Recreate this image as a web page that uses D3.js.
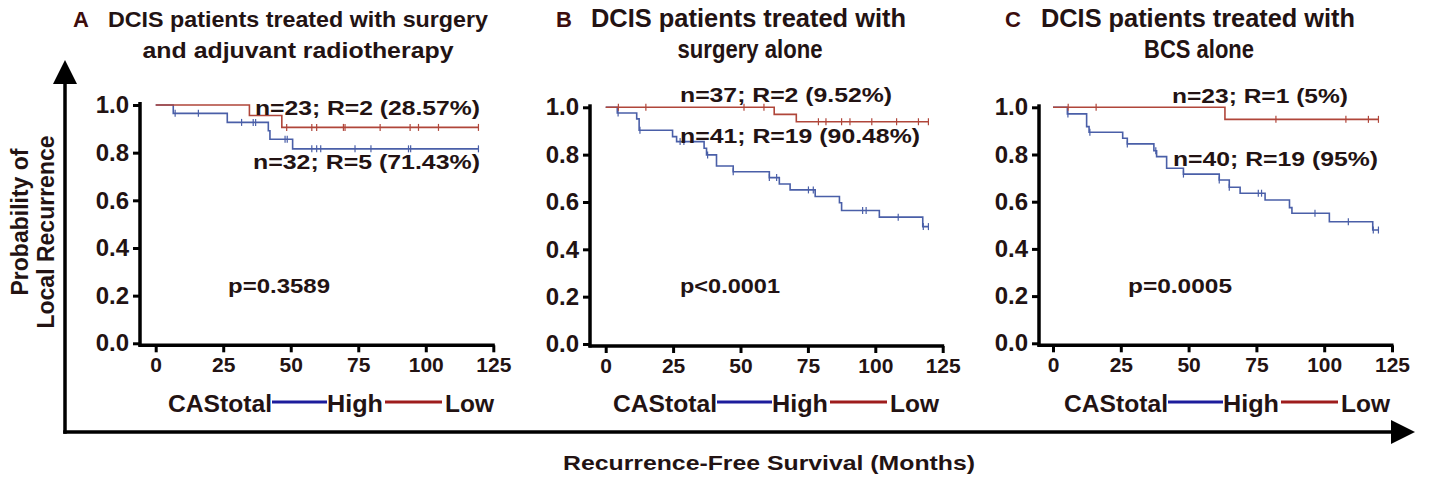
<!DOCTYPE html>
<html>
<head>
<meta charset="utf-8">
<script src="https://cdn.jsdelivr.net/npm/d3@7"></script>
<style>
  html, body { margin: 0; padding: 0; background: #ffffff; }
  svg { display: block; }
  text { font-family: "Liberation Sans", Arial, sans-serif; font-weight: bold; fill: #231313; }
  .narrow { font-family: "Liberation Sans Narrow", "Arial Narrow", "Liberation Sans", Arial, sans-serif; }
</style>
</head>
<body>
<svg id="chart" width="1429" height="477"></svg>
<script>
// ---- data ----
const monthTicks = [0, 25, 50, 75, 100, 125];
const probTicks = [0, 0.2, 0.4, 0.6, 0.8, 1.0];
const panelLetters = ["A", "B", "C"];
const titleLines = [
  ["DCIS patients treated with surgery", "and adjuvant radiotherapy"],
  ["DCIS patients treated with", "surgery alone"],
  ["DCIS patients treated with", "BCS alone"]
];
const pValues = ["p=0.3589", "p<0.0001", "p=0.0005"];
const highCounts = ["n=32; R=5 (71.43%)", "n=41; R=19 (90.48%)", "n=40; R=19 (95%)"];
const lowCounts = ["n=23; R=2 (28.57%)", "n=37; R=2 (9.52%)", "n=23; R=1 (5%)"];
const legendTitle = "CAStotal";
const groupNames = ["High", "Low"];
const followUpEnd = [119.5, 119.7, 120];

// Kaplan-Meier steps: [month, probability after the step]
const aHighSteps = [[0, 1], [6.5, 0.965], [26.5, 0.927], [41.7, 0.892], [42.3, 0.856], [50.7, 0.816]];
const aHighCensor = [7.2, 15.8, 31.8, 36.1, 37.0, 47.9, 48.7, 57.8, 59.6, 61.1, 73.8, 79.7, 93.6, 94.4, 119.5];
const aLowSteps = [[0, 1], [34.7, 0.956], [46.7, 0.906]];
const aLowCensor = [48.5, 57.8, 59.6, 69.5, 70.1, 83.1, 94.2, 97.3, 104.7, 119.5];

const bHighSteps = [[0, 1], [4.3, 0.976], [11.5, 0.951], [12.4, 0.903], [24.8, 0.876], [26.3, 0.855],
  [36.5, 0.827], [37.4, 0.799], [41.1, 0.752], [47.3, 0.728], [60.7, 0.703], [64.4, 0.676],
  [68.4, 0.651], [77.7, 0.623], [86.7, 0.597], [87.5, 0.564], [101.5, 0.536], [117.6, 0.496]];
const bHighCensor = [4.6, 12.7, 27.6, 29.0, 37.8, 47.3, 60.7, 63.4, 75.2, 77.0, 95.3, 96.6, 108.5, 117.8, 119.7];
const bLowSteps = [[0, 1], [62.5, 0.970], [70.7, 0.939]];
const bLowCensor = [4.7, 14.9, 51.3, 58.7, 78.9, 81.7, 87.5, 90.6, 98.7, 107.9, 116.0, 119.7];

const cHighSteps = [[0, 1], [5.3, 0.972], [12.4, 0.918], [13.3, 0.894], [25.7, 0.869], [27.4, 0.845],
  [37.2, 0.816], [38.2, 0.791], [41.9, 0.742], [48.1, 0.717], [61.3, 0.692], [65.0, 0.661],
  [69.0, 0.636], [78.2, 0.607], [87.2, 0.575], [88.1, 0.551], [101.9, 0.515], [117.9, 0.480]];
const cHighCensor = [5.5, 13.6, 27.4, 37.9, 48.1, 61.3, 65.0, 75.7, 76.9, 96.6, 108.9, 118.1, 120];
const cLowSteps = [[0, 1], [63.4, 0.949]];
const cLowCensor = [5.6, 15.9, 82.2, 108, 116.3, 120];

const highSteps = [aHighSteps, bHighSteps, cHighSteps];
const highCensor = [aHighCensor, bHighCensor, cHighCensor];
const lowSteps = [aLowSteps, bLowSteps, cLowSteps];
const lowCensor = [aLowCensor, bLowCensor, cLowCensor];

// ---- layout ----
const panels = [
  { xr: [155.7, 493.3], yr: [343.3, 105],   axisX: 140,  letterX: 81,   t1X: 108, t1W: 380, t2C: 298,  t2W: 311, tSize: 22, narrow: false,
    lowPos: [255, 115, 225], highPos: [253, 169, 227], pPos: [228, 102], legX: 168 },
  { xr: [605.7, 942.7], yr: [344, 107.3],   axisX: 590,  letterX: 564,  t1X: 591, t1W: 315, t2C: 750,  t2W: 145, tSize: 26, narrow: true,
    lowPos: [680, 102, 212], highPos: [680, 143, 240], pPos: [680, 100], legX: 613 },
  { xr: [1053, 1392],   yr: [343.3, 107.3], axisX: 1039, letterX: 1013, t1X: 1041, t1W: 314, t2C: 1199, t2W: 110, tSize: 26, narrow: true,
    lowPos: [1172, 103, 176], highPos: [1173, 166, 205], pPos: [1128, 104], legX: 1064 }
];

const colHigh = "#4a5fa8", colLow = "#b0463a";
const legHigh = "#1c1c9c", legLow = "#9e1c1c";
const ink = "#231313";

const svg = d3.select("#chart");

function stepValue(steps, t) {
  let v = 1;
  for (const s of steps) { if (s[0] <= t) v = s[1]; }
  return v;
}

panels.forEach((p, i) => {
  const x = d3.scaleLinear().domain([0, 125]).range(p.xr);
  const y = d3.scaleLinear().domain([0, 1]).range(p.yr);
  const g = svg.append("g");

  // title
  g.append("text").attr("x", p.letterX).attr("y", 27).attr("text-anchor", "middle")
    .style("font-size", "22px").style("fill", "#3d0d0d").text(panelLetters[i]);
  g.append("text").attr("x", p.t1X).attr("y", 27)
    .classed("narrow", p.narrow)
    .style("font-size", p.tSize + "px")
    .attr("textLength", p.t1W).attr("lengthAdjust", "spacingAndGlyphs")
    .text(titleLines[i][0]);
  g.append("text").attr("x", p.t2C - p.t2W / 2).attr("y", 58)
    .classed("narrow", p.narrow)
    .style("font-size", p.tSize + "px")
    .attr("textLength", p.t2W).attr("lengthAdjust", "spacingAndGlyphs")
    .text(titleLines[i][1]);

  // y axis
  const yAxis = d3.axisLeft(y).tickValues(probTicks).tickFormat(d3.format(".1f"))
    .tickSize(7).tickPadding(4).tickSizeOuter(0);
  const yg = g.append("g").attr("transform", `translate(${p.axisX},0)`).call(yAxis);
  yg.select(".domain").remove();
  yg.selectAll(".tick line").attr("stroke", "#000").attr("stroke-width", 3);
  yg.selectAll(".tick text").style("font-size", "24px").style("font-family", "'Liberation Sans', Arial, sans-serif")
    .style("font-weight", "bold").attr("fill", ink);
  g.append("line").attr("x1", p.axisX).attr("x2", p.axisX)
    .attr("y1", p.yr[1] - 3).attr("y2", p.yr[0] + 3.5)
    .attr("stroke", "#000").attr("stroke-width", 3.5);

  // x axis
  const xBase = p.yr[0] + 2;
  const xAxis = d3.axisBottom(x).tickValues(monthTicks).tickSize(7).tickPadding(5).tickSizeOuter(0);
  const xg = g.append("g").attr("transform", `translate(0,${xBase})`).call(xAxis);
  xg.select(".domain").remove();
  xg.selectAll(".tick line").attr("stroke", "#000").attr("stroke-width", 3);
  xg.selectAll(".tick text").style("font-size", "21px").style("font-family", "'Liberation Sans', Arial, sans-serif")
    .style("font-weight", "bold").attr("fill", ink);
  g.append("line").attr("x1", p.axisX - 1.5).attr("x2", x(125) + 1.5)
    .attr("y1", xBase).attr("y2", xBase)
    .attr("stroke", "#000").attr("stroke-width", 3.5);

  // survival curves
  const line = d3.line().x(d => x(d[0])).y(d => y(d[1])).curve(d3.curveStepAfter);
  const groups = [
    { steps: highSteps[i], censor: highCensor[i], col: colHigh },
    { steps: lowSteps[i], censor: lowCensor[i], col: colLow }
  ];
  groups.forEach(gr => {
    const pts = gr.steps.concat([[followUpEnd[i], gr.steps[gr.steps.length - 1][1]]]);
    g.append("path").datum(pts).attr("d", line)
      .attr("fill", "none").attr("stroke", gr.col).attr("stroke-width", 1.6);
    g.selectAll(null).data(gr.censor).enter().append("line")
      .attr("x1", d => x(d)).attr("x2", d => x(d))
      .attr("y1", d => y(stepValue(gr.steps, d)) - 3.5)
      .attr("y2", d => y(stepValue(gr.steps, d)) + 3.5)
      .attr("stroke", gr.col).attr("stroke-width", 1.2);
  });

  // annotations
  const ann = [
    [lowCounts[i], p.lowPos[0], p.lowPos[1], p.lowPos[2]],
    [highCounts[i], p.highPos[0], p.highPos[1], p.highPos[2]],
    [pValues[i], p.pPos[0], 293, p.pPos[1]]
  ];
  ann.forEach(a => {
    g.append("text").attr("x", a[1]).attr("y", a[2]).style("font-size", "21px")
      .attr("textLength", a[3]).attr("lengthAdjust", "spacingAndGlyphs").text(a[0]);
  });

  // legend
  const lx = p.legX, ly = 412;
  g.append("text").attr("x", lx).attr("y", ly).style("font-size", "24px")
    .attr("textLength", 104).attr("lengthAdjust", "spacingAndGlyphs").text(legendTitle);
  g.append("line").attr("x1", lx + 104).attr("x2", lx + 159).attr("y1", ly - 10).attr("y2", ly - 10)
    .attr("stroke", legHigh).attr("stroke-width", 3);
  g.append("text").attr("x", lx + 159).attr("y", ly).style("font-size", "24px")
    .attr("textLength", 56).attr("lengthAdjust", "spacingAndGlyphs").text(groupNames[0]);
  g.append("line").attr("x1", lx + 217).attr("x2", lx + 274).attr("y1", ly - 10).attr("y2", ly - 10)
    .attr("stroke", legLow).attr("stroke-width", 3);
  g.append("text").attr("x", lx + 277).attr("y", ly).style("font-size", "24px")
    .attr("textLength", 49).attr("lengthAdjust", "spacingAndGlyphs").text(groupNames[1]);
});

// shared frame arrows
const arrowX = 65, arrowY = 432;
svg.append("line").attr("x1", arrowX).attr("x2", arrowX).attr("y1", 80).attr("y2", arrowY + 1.75)
  .attr("stroke", "#000").attr("stroke-width", 3.5);
svg.append("path").attr("d", `M${arrowX},60 L${arrowX - 12},84 L${arrowX + 12},84 Z`).attr("fill", "#000");
svg.append("line").attr("x1", arrowX - 1.75).attr("x2", 1395).attr("y1", arrowY).attr("y2", arrowY)
  .attr("stroke", "#000").attr("stroke-width", 3.5);
svg.append("path").attr("d", `M1415,${arrowY} L1391,${arrowY - 12} L1391,${arrowY + 12} Z`).attr("fill", "#000");

// shared axis titles
svg.append("text").attr("x", 769).attr("y", 470).attr("text-anchor", "middle")
  .style("font-size", "21px").attr("textLength", 412).attr("lengthAdjust", "spacingAndGlyphs")
  .text("Recurrence-Free Survival (Months)");
svg.append("text").attr("transform", "translate(28,222) rotate(-90)").attr("text-anchor", "middle")
  .style("font-size", "23px").text("Probability of");
svg.append("text").attr("transform", "translate(54,232) rotate(-90)").attr("text-anchor", "middle")
  .style("font-size", "23px").text("Local Recurrence");
</script>
</body>
</html>
